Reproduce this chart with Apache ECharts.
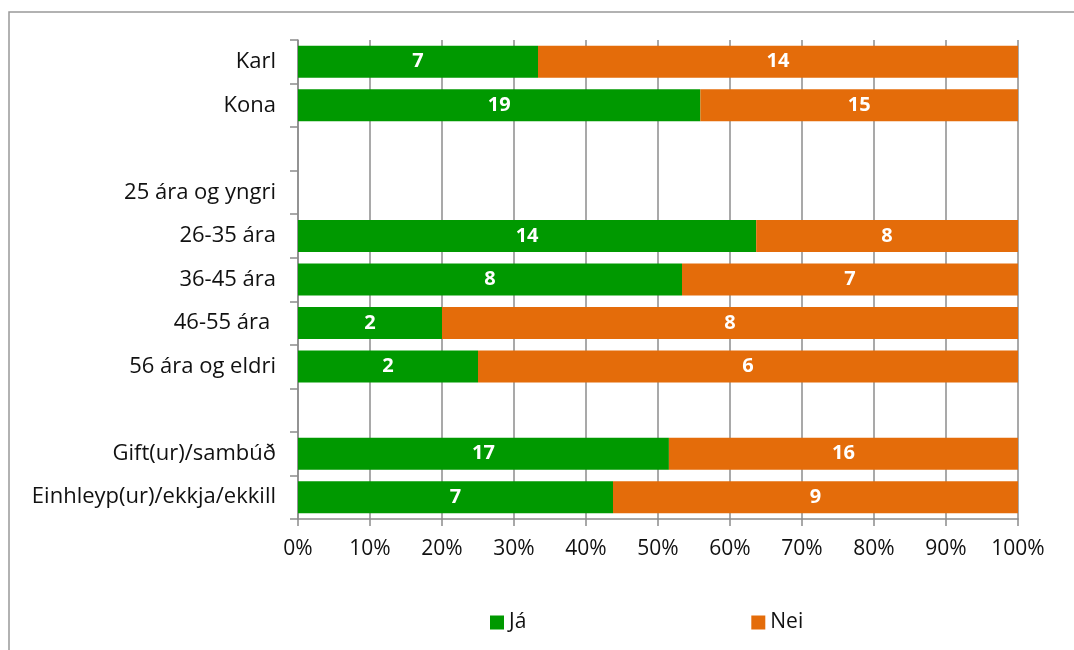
<!DOCTYPE html>
<html>
<head>
<meta charset="UTF-8">
<title></title>
<script src="https://cdn.jsdelivr.net/npm/echarts@6/dist/echarts.min.js"></script>
</head>
<body style="margin:0">
<div id="echart" style="width:1074px;height:650px;"></div>
<script type="text/javascript">
var categories = ['Karl', 'Kona', '', '25 ára og yngri', '26-35 ára', '36-45 ára', '46-55 ára ', '56 ára og eldri', ' ', 'Gift(ur)/sambúð', 'Einhleyp(ur)/ekkja/ekkill'];
// fjöldi svara
var jaCounts = [7, 19, null, null, 14, 8, 2, 2, null, 17, 7];
var neiCounts = [14, 15, null, null, 8, 7, 8, 6, null, 16, 9];
var xTicks = ['0%', '10%', '20%', '30%', '40%', '50%', '60%', '70%', '80%', '90%', '100%'];

var fnt = 'Open Sans';
var gray = '#8c8c8c';

// hlutfall af heild í hverri línu
function pct(a, b, i) {
	var tot = (a[i] || 0) + (b[i] || 0);
	if (!tot || a[i] == null) return null;
	return a[i] / tot * 100;
}
var jaPct = [], neiPct = [];
for (var i = 0; i < categories.length; i++) {
	jaPct.push(pct(jaCounts, neiCounts, i));
	neiPct.push(pct(neiCounts, jaCounts, i));
}

function lbl(counts) {
	return {
		show: true,
		position: 'inside',
		color: '#fff',
		fontFamily: fnt,
		fontWeight: 'bold',
		fontSize: 20,
		formatter: function (p) {
			var c = counts[p.dataIndex];
			return c == null ? '' : String(c);
		}
	};
}

var myChart = echarts.init(document.getElementById('echart'));
myChart.setOption({
	animation: false,
	textStyle: { fontFamily: fnt },
	graphic: [{
		type: 'rect',
		shape: { x: 9, y: 12, width: 1200, height: 800 },
		style: { fill: 'none', stroke: '#999', lineWidth: 1.5 },
		silent: true
	}],
	grid: { left: 298, right: 56, top: 40, bottom: 131 },
	legend: {
		left: 490,
		top: 612,
		padding: 0,
		itemWidth: 14,
		itemHeight: 14,
		itemGap: 225,
		icon: 'rect',
		textStyle: { fontFamily: fnt, fontSize: 21, color: '#111' },
		data: ['Já', 'Nei']
	},
	xAxis: {
		type: 'value',
		min: 0,
		max: 100,
		interval: 10,
		axisLine: { show: true, lineStyle: { color: gray, width: 1.5 } },
		axisTick: { show: true, length: 7, lineStyle: { color: gray, width: 1.5 } },
		splitLine: { show: true, lineStyle: { color: gray, width: 1.5 } },
		axisLabel: {
			margin: 20,
			color: '#111',
			fontFamily: fnt,
			fontSize: 21,
			formatter: function (v) { return xTicks[Math.round(v / 10)]; }
		}
	},
	yAxis: {
		type: 'category',
		inverse: true,
		data: categories,
		axisLine: { show: true, lineStyle: { color: gray, width: 1.5 } },
		axisTick: { show: true, length: 8, interval: 0, lineStyle: { color: gray, width: 1.5 } },
		axisLabel: { interval: 0, margin: 22, color: '#111', fontFamily: fnt, fontSize: 22 }
	},
	series: [{
		name: 'Já',
		type: 'bar',
		stack: 'a',
		barWidth: 32,
		itemStyle: { color: '#009900' },
		label: lbl(jaCounts),
		data: jaPct
	}, {
		name: 'Nei',
		type: 'bar',
		stack: 'a',
		barWidth: 32,
		itemStyle: { color: '#e46c0a' },
		label: lbl(neiCounts),
		data: neiPct
	}]
});
</script>
</body>
</html>
